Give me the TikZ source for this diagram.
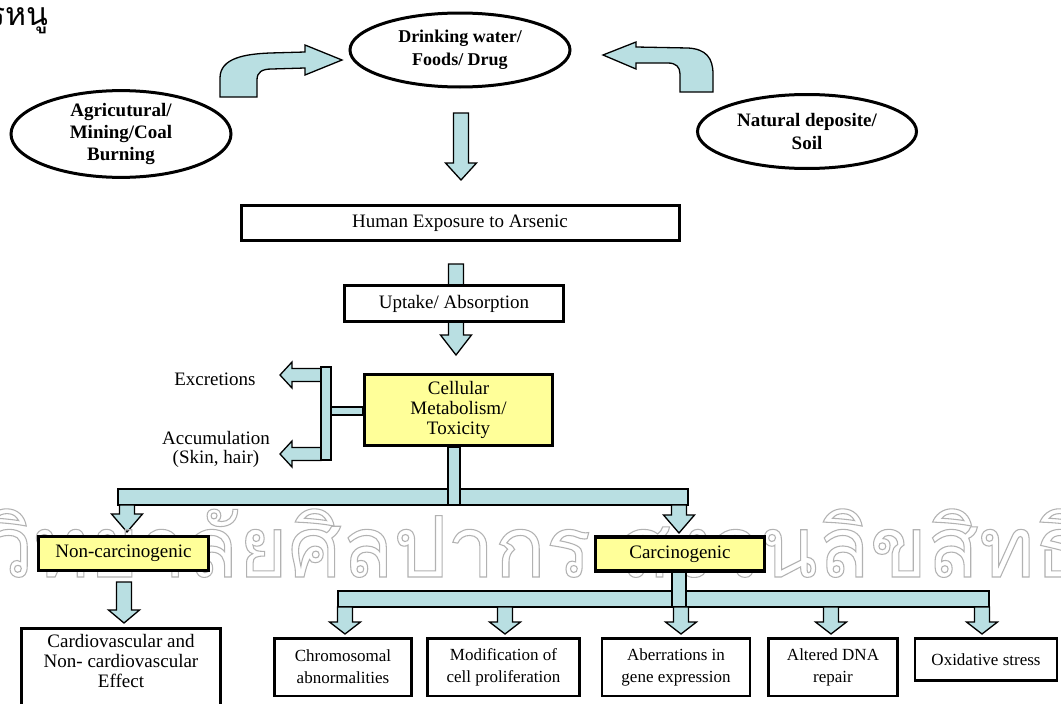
\documentclass[tikz,border=0pt]{standalone}
\usepackage{fontspec}
\setmainfont{Liberation Serif}
\newfontfamily\thaifont[Script=Thai]{Loma}
\usetikzlibrary{shapes.geometric,calc}

\definecolor{arrowblue}{RGB}{185,223,226}
\definecolor{boxyellow}{RGB}{255,255,153}

\tikzset{
  src/.style={ellipse, draw, line width=3pt, fill=white, inner sep=0pt, align=center,
    font=\bfseries\fontsize{19}{22}\selectfont},
  box/.style={draw, line width=3pt, fill=white, inner sep=0pt, align=center,
    font=\fontsize{19}{21}\selectfont},
  ybox/.style={box, fill=boxyellow},
  effect/.style={box, anchor=north, line width=2.5pt, font=\fontsize{17}{22}\selectfont},
  fatbar/.style={draw, line width=1.3pt, fill=arrowblue, line join=miter},
  plain/.style={inner sep=0pt, align=center, font=\fontsize{19}{19}\selectfont}
}

% block arrow pointing down, from top point #2 to tip #3, head length #1
\newcommand{\fatdown}[3][18pt]{%
  \draw[fatbar] let \p1=(#2), \p2=(#3) in
    (\x1-7.5pt,\y1) -- (\x1-7.5pt,\y2+#1) -- (\x1-15.5pt,\y2+#1) -- (\x1,\y2)
    -- (\x1+15.5pt,\y2+#1) -- (\x1+7.5pt,\y2+#1) -- (\x1+7.5pt,\y1) -- cycle;}
% block arrow pointing left, from #1 to tip #2
\newcommand{\fatleft}[2]{%
  \draw[fatbar] let \p1=(#1), \p2=(#2) in
    (\x1,\y1+6.5pt) -- (\x2+12pt,\y1+6.5pt) -- (\x2+12pt,\y1+13pt) -- (\x2,\y1)
    -- (\x2+12pt,\y1-13pt) -- (\x2+12pt,\y1-6.5pt) -- (\x1,\y1-6.5pt) -- cycle;}

\begin{document}
\begin{tikzpicture}[x=1pt, y=1pt]
  \useasboundingbox[fill=white] (0,0) rectangle (1061,-704);

  \node[anchor=base east, inner sep=0pt, font=\thaifont\fontsize{32}{32}\selectfont] (title) at (49,-25) {สารหนู};

  % sources
  \draw[fatbar] (220,-97) -- (220,-78) .. controls (220,-58) and (245,-54) .. (270,-53)
    -- (305,-52) -- (305,-45) -- (342,-60) -- (305,-75) -- (305,-68) -- (272,-69)
    .. controls (262,-69) and (257,-72) .. (257,-80) -- (257,-97) -- cycle;
  \draw[fatbar] (603,-55) -- (636,-42) -- (636,-47) -- (688,-48)
    .. controls (706,-49) and (713,-58) .. (713,-74) -- (713,-92) -- (680,-92) -- (680,-74)
    .. controls (680,-67) and (676,-63) .. (668,-63) -- (636,-63) -- (636,-69) -- cycle;

  \node[src, minimum width=220pt, minimum height=74pt, font=\bfseries\fontsize{18}{23}\selectfont] (drink) at (460,-50) {Drinking water/\\Foods/ Drug};
  \node[src, minimum width=220pt, minimum height=75pt] (agri) at (121,-134) {Agricutural/\\Mining/Coal\\Burning};
  \node[src, minimum width=219pt, minimum height=74pt, font=\bfseries\fontsize{19}{23}\selectfont] (soil) at (807,-131.5) {Natural deposite/\\Soil};

  % exposure
  \coordinate (drinkout) at (461,-113);
  \coordinate (humanin) at (461,-180);
  \fatdown[17pt]{drinkout}{humanin}
  \node[box, minimum width=438pt, minimum height=35pt] (human) at (460,-223) {Human Exposure to Arsenic};

  \coordinate (humanout) at (456,-264);
  \coordinate (cellin) at (456,-355);
  \fatdown[20pt]{humanout}{cellin}
  \node[box, minimum width=219pt, minimum height=36pt] (uptake) at (454,-303.5) {Uptake/ Absorption};

  % metabolism
  \coordinate (excr) at (321,-375);
  \coordinate (accu) at (321,-454);
  \fatleft{excr}{$(excr)+(-41,0)$}
  \fatleft{accu}{$(accu)+(-41,0)$}
  \draw[fatbar] (321,-367) rectangle (331,-460);
  \draw[fatbar] (331,-407) rectangle (363,-415);
  \node[plain] (excrtext) at (215,-379) {Excretions};
  \node[plain] (accutext) at (216,-449) {Accumulation\\(Skin, hair)};

  \node[ybox, minimum width=188pt, minimum height=71pt, font=\fontsize{19}{20}\selectfont] (cell) at (458.5,-410) {Cellular\\Metabolism/\\Toxicity};

  % split
  \draw[fatbar] (118,-489) rectangle (688,-505);
  \draw[fatbar] (cell.south -| 448,0) rectangle (460,-505);
  \coordinate (splitl) at (127,-505);
  \coordinate (splitr) at (679,-505);
  \fatdown{splitl}{$(splitl)+(0,-27)$}
  \fatdown{splitr}{$(splitr)+(0,-28)$}

  \node[anchor=base west, inner sep=0pt, text=gray!60] (wmark) at (-14,-577)
    {\resizebox{1100pt}{90pt}{\thaifont\fontsize{120}{120}\selectfont\special{pdf:code 1 Tr 1.5 w}วิทยาลัยศิลปากร สงวนลิขสิทธิ์\special{pdf:code 0 Tr}}};

  \node[ybox, line width=3.5pt, minimum width=170pt, minimum height=34pt] (noncarc) at (123.5,-553.5) {Non-carcinogenic};
  \node[ybox, line width=3.5pt, minimum width=169pt, minimum height=34pt] (carc) at (680,-554) {Carcinogenic};

  % non-carcinogenic effect
  \coordinate (ncout) at (124,-582);
  \fatdown[13pt]{ncout}{$(ncout)+(0,-41)$}
  \node[effect, line width=3pt, minimum width=199pt, inner ysep=6pt, font=\fontsize{19}{20}\selectfont] (cardio) at (121,-626.5) {Cardiovascular and\\Non- cardiovascular\\Effect\\~\\~};

  % carcinogenic effects
  \draw[fatbar] (338,-591) rectangle (989,-607);
  \draw[fatbar] (carc.south -| 672,0) rectangle (686,-607);
  \foreach \col in {345,505,681,831,982}{
    \coordinate (ctop) at (\col,-607);
    \coordinate (ctip) at (\col,-634);
    \fatdown[12pt]{ctop}{ctip}
  }

  \node[effect, minimum width=137pt, minimum height=57.5pt] (chrom) at (343,-637) {Chromosomal\\abnormalities};
  \node[effect, minimum width=152pt, minimum height=57.5pt] (prolif) at (503.5,-637) {Modification of\\cell proliferation};
  \node[effect, minimum width=148pt, minimum height=57.5pt] (gene) at (676,-637) {Aberrations in\\gene expression};
  \node[effect, minimum width=129pt, minimum height=57.5pt] (dna) at (833,-637) {Altered DNA\\repair};
  \node[effect, minimum width=142pt, minimum height=42pt] (oxid) at (986,-637) {Oxidative stress};
\end{tikzpicture}
\end{document}
